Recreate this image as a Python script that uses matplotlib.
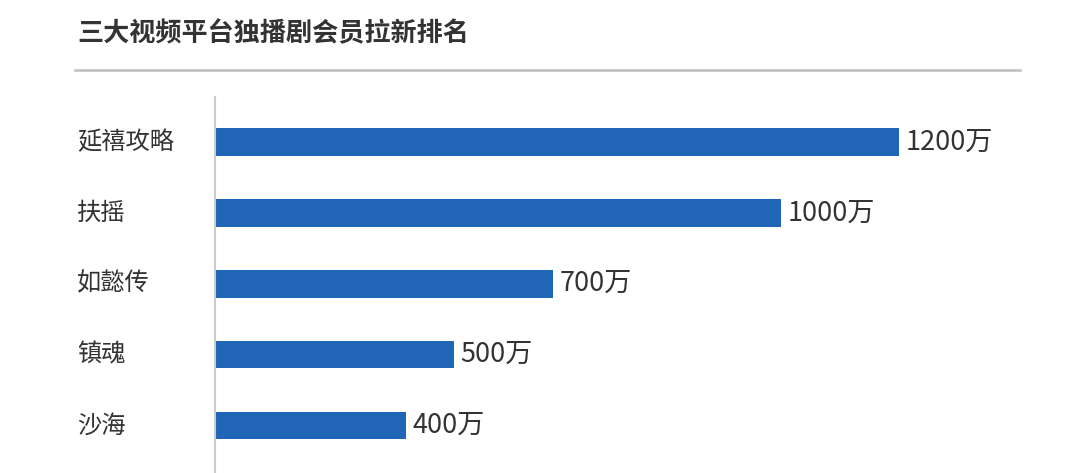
import matplotlib
matplotlib.use("Agg")
import matplotlib.pyplot as plt
from matplotlib.lines import Line2D

plt.rcParams['font.family'] = ['Noto Sans CJK SC', 'DejaVu Sans']

# ---- data ----
title = "三大视频平台独播剧会员拉新排名"
categories = ["延禧攻略", "扶摇", "如懿传", "镇魂", "沙海"]
value_labels = ["1200万", "1000万", "700万", "500万", "400万"]
# bar lengths as drawn in the picture (in 万, scaled so the top bar = 1200)
bar_lengths = [1200, 993, 593, 419, 335]

W, H = 1077, 473
fig = plt.figure(figsize=(W / 100, H / 100), dpi=100)
fig.patch.set_facecolor('white')

# axes region: left spine at x=215 px, top at y=97 px, right edge at 1018 px
ax = fig.add_axes([215 / W, 0, (1018 - 215) / W, (H - 97) / H])
ax.set_facecolor('white')

y = list(range(len(categories)))
ax.barh(y, bar_lengths, height=0.39, color='#2165b6', edgecolor='none')

ax.set_xlim(0, 1409)
ax.set_ylim(4.67, -0.635)

for i, (v, lab) in enumerate(zip(bar_lengths, value_labels)):
    ax.annotate(lab, xy=(v, i), xytext=(4.5, 0), textcoords='offset points',
                ha='left', va='center', fontsize=19.5, color='#333333')

for i, name in enumerate(categories):
    ax.text((77 - 215) / (1018 - 215), i, name, transform=ax.get_yaxis_transform(),
            ha='left', va='center', fontsize=17.5, color='#333333')

ax.set_xticks([])
ax.set_yticks([])
for s in ['top', 'right', 'bottom']:
    ax.spines[s].set_visible(False)
ax.spines['left'].set_color('#cccccc')
ax.spines['left'].set_linewidth(1.5)

# title and rule
fig.text(77 / W, 1 - 34 / H, title, ha='left', va='center', fontsize=18.8,
         fontweight='bold', color='#333333')
fig.add_artist(Line2D([75 / W, 1020 / W], [1 - 70 / H, 1 - 70 / H],
                      transform=fig.transFigure, color='#bdbdbd', linewidth=1.8))

fig.savefig('out.png', dpi=100, facecolor='white')
